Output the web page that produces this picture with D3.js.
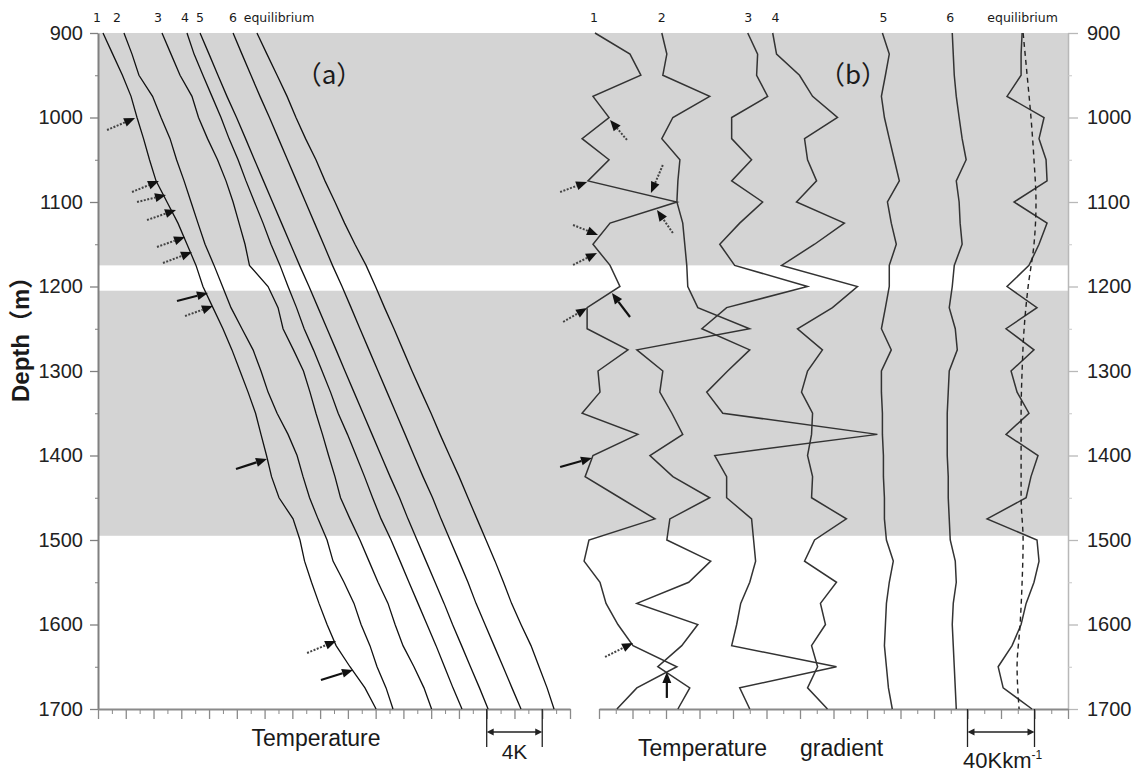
<!DOCTYPE html>
<html>
<head>
<meta charset="utf-8">
<script src="https://cdn.jsdelivr.net/npm/d3@7/dist/d3.min.js"></script>
<style>
  body { margin: 0; background: #fff; }
  text { font-family: "Liberation Sans", Arial, sans-serif; fill: #1a1a1a; }
</style>
</head>
<body>
<div id="chart"></div>
<script>
// depth of every sample (m)
var depths = [900,925,950,975,1000,1025,1050,1075,1100,1125,1150,1175,1200,1225,1250,1275,1300,
	1325,1350,1375,1400,1425,1450,1475,1500,1525,1550,1575,1600,1625,1650,1675,1700];

// (a) temperature, K relative to the left end of the axis
var temp1 = [0.36,1.06,1.76,2.38,2.81,3.28,3.71,4.18,4.97,5.76,6.41,7.06,7.56,8.28,9.00,9.65,10.23,
	10.81,11.35,11.74,12.14,12.50,13.04,14.05,14.55,14.88,15.38,15.92,16.50,17.15,18.15,19.23,20.03];
var temp2 = [1.87,2.45,2.95,3.93,4.54,5.19,5.66,6.20,6.70,7.20,7.71,8.36,8.97,9.58,10.37,11.17,11.74,
	12.25,12.90,13.69,14.34,14.77,15.24,15.85,16.50,16.93,17.72,18.44,18.95,19.59,20.10,20.75,21.25];
var temp3 = [4.61,5.26,5.91,6.77,7.24,7.89,8.61,9.22,9.73,10.16,10.59,10.91,12.25,12.97,13.33,14.08,14.80,
	15.27,15.70,16.17,16.61,17.07,17.47,18.15,18.87,19.52,20.17,20.89,21.40,21.97,22.76,23.48,24.03];
var temp4 = [6.41,6.92,7.56,8.21,8.86,9.44,10.09,10.66,11.27,11.89,12.46,13.11,13.69,14.30,14.85,15.52,16.14,
	16.75,17.30,17.97,18.59,19.20,19.78,20.39,21.11,21.76,22.40,23.05,23.70,24.35,24.96,25.57,26.22];
var temp5 = [7.35,8.00,8.64,9.29,9.98,10.63,11.27,11.92,12.57,13.22,13.87,14.52,15.20,15.85,16.50,17.15,17.79,
	18.44,19.09,19.74,20.39,21.04,21.72,22.33,22.98,23.63,24.28,24.93,25.54,26.19,26.83,27.48,28.10];
var temp6 = [9.73,10.37,11.02,11.67,12.35,13.00,13.65,14.30,14.95,15.60,16.25,16.89,17.58,18.23,18.87,19.52,20.17,
	20.82,21.47,22.12,22.76,23.41,24.10,24.71,25.36,26.01,26.65,27.23,27.88,28.53,29.18,29.82,30.47];
var tempEq = [11.45,12.17,12.90,13.62,14.26,14.95,15.70,16.35,17.07,17.76,18.51,19.31,19.99,20.64,21.32,21.97,22.62,
	23.30,23.99,24.64,25.32,26.01,26.65,27.30,27.95,28.60,29.21,29.79,30.47,31.19,31.77,32.35,32.85];

// (b) temperature gradient, K/km relative to the left end of the axis
var grad1 = [-2.4,18.5,25.0,-3.6,6.0,-10.1,6.0,-6.6,46.5,6.6,-3.6,6.6,12.5,-7.1,-7.1,17.3,-0.6,
	0.6,-10.1,23.2,-3.6,-8.3,12.5,33.4,-6.0,-8.9,0.6,4.2,11.3,20.3,46.5,22.6,10.7];
var grad2 = [37.5,40.5,38.1,66.1,44.1,37.5,48.3,47.1,46.5,50.0,51.2,52.4,53.0,59.0,89.9,22.6,38.1,
	36.3,43.5,50.0,30.4,44.1,66.1,42.3,40.5,66.7,53.6,22.6,59.0,49.4,35.1,54.2,47.1];
var grad3 = [88.8,94.7,94.1,100.7,79.2,79.2,91.1,79.2,97.7,84.0,72.1,81.0,124.5,76.2,61.4,90.0,76.8,
	64.3,73.9,166.2,69.1,76.2,76.2,91.1,92.3,93.5,90.0,84.6,82.2,79.2,141.8,84.0,90.0];
var grad4 = [103.7,106.0,119.7,127.5,142.4,122.7,124.5,129.9,117.9,146.5,128.7,109.0,154.3,139.4,118.5,133.4,124.5,
	120.9,127.5,126.9,124.5,127.5,126.9,147.7,128.7,122.7,141.8,132.2,135.2,126.9,130.5,124.5,136.4];
var grad5 = [169.2,173.3,171.0,168.6,170.4,173.3,176.3,179.3,172.2,174.5,177.5,173.3,173.3,171.0,168.6,174.5,168.6,
	168.6,169.2,169.2,169.8,169.8,170.4,170.4,171.6,175.7,173.3,171.6,171.0,170.4,171.6,172.8,175.1];
var grad6 = [210.9,211.5,212.1,213.3,215.0,216.8,219.2,213.3,215.0,215.6,216.8,212.1,210.9,209.1,212.7,213.9,209.1,
	208.5,207.9,207.9,207.9,208.5,208.5,209.1,209.7,212.7,213.3,211.5,210.9,211.5,212.1,212.7,213.3];
var gradEq = [252.6,252.0,252.0,243.6,265.7,262.7,266.9,267.5,247.8,267.5,262.7,256.7,243.6,261.5,243.0,259.7,246.0,
	249.6,256.7,243.0,262.1,257.9,255.0,231.7,261.5,262.7,259.7,255.0,252.0,246.6,238.3,241.3,258.5];

// smooth equilibrium gradient (dashed)
var fitDepths = [900,950,1000,1050,1100,1150,1200,1250,1300,1350,1400,1450,1500,1550,1600,1650,1700];
var gradEqFit = [253.2,255.6,257.9,259.7,260.9,259.7,256.2,253.8,252.6,252.0,252.0,252.0,253.2,252.6,251.4,249.6,250.8];

var bands = [[900,1175],[1205,1495]];
var depthTicks = [900,1000,1100,1200,1300,1400,1500,1600,1700];
var depthMinor = [950,1050,1150,1250,1350,1450,1550,1650];
var tempTicks = [0,2,4,6,8,10,12,14,16,18,20,22,24,26,28,30,32,34];
var tempMinor = [1,3,5,7,9,11,13,15,17,19,21,23,25,27,29,31,33];
var gradTicks = [0,20,40,60,80,100,120,140,160,180,200,220,240,260,280];
var gradMinor = [10,30,50,70,90,110,130,150,170,190,210,230,250,270];

var curveNames = ["1","2","3","4","5","6","equilibrium"];
var namePosA = [-0.07,1.37,4.32,6.27,7.35,9.73,13.04];
var namePosB = [-3.0,37.5,89.1,105.4,169.8,209.7,252.9];

// arrows: [from value, from depth, to value, to depth, kind]
var arrowsA = [
	[0.65,1014.8,2.67,1000.6,"dot"], [2.45,1088.2,4.39,1075.1,"dot"], [2.81,1100.0,4.90,1091.7,"dot"],
	[3.53,1121.3,5.62,1109.5,"dot"], [4.25,1153.2,6.27,1141.4,"dot"], [4.68,1172.2,6.77,1159.2,"dot"],
	[5.69,1217.2,7.92,1207.7,"solid"], [6.27,1234.9,8.28,1223.1,"dot"], [9.94,1416.0,12.17,1404.1,"solid"],
	[15.06,1633.7,17.15,1619.5,"dot"], [16.06,1665.6,18.37,1653.8,"solid"]
];
var arrowsB = [
	[16.7,1026.6,6.6,1003.0,"dot"], [-23.2,1088.2,-7.1,1076.3,"dot"], [38.1,1056.2,31.0,1089.3,"dot"],
	[44.1,1136.7,34.6,1109.5,"dot"], [-15.5,1127.2,-0.6,1139.0,"dot"], [-15.5,1174.5,-1.2,1160.3,"dot"],
	[18.5,1236.1,7.7,1207.7,"solid"], [-21.4,1242.0,-7.1,1225.4,"dot"], [-23.2,1413.6,-4.2,1402.9,"solid"],
	[3.6,1638.4,20.3,1621.8,"dot"], [40.5,1686.9,40.5,1656.2,"solid"]
];

var width = 1135, height = 774;
var svg = d3.select("#chart").append("svg")
	.attr("width", width)
	.attr("height", height);

var y = d3.scaleLinear().domain([900, 1700]).range([33, 709]);
var xA = d3.scaleLinear().domain([0, 34]).range([98, 570]);
var xB = d3.scaleLinear().domain([0, 280]).range([599, 1068]);

svg.selectAll("rect.band").data(bands).enter().append("rect")
	.attr("class", "band")
	.attr("x", xA(0))
	.attr("width", xB(280) - xA(0))
	.attr("y", function(d) { return y(d[0]); })
	.attr("height", function(d) { return y(d[1]) - y(d[0]); })
	.style("fill", "#d4d4d4");

function styleAxis(g, col, w) {
	g.attr("font-family", null).attr("font-size", null);
	g.select(".domain").style("stroke", col).style("stroke-width", w);
	g.selectAll(".tick line").style("stroke", col).style("stroke-width", 1.3);
	g.selectAll(".tick text").style("font-size", "20px").style("fill", "#222");
}

// left depth axis
svg.append("g").attr("transform", "translate(" + xA(0) + ",0)")
	.call(d3.axisLeft(y).tickValues(depthTicks).tickSize(8).tickSizeOuter(0).tickPadding(7).tickFormat(d3.format("d")))
	.call(styleAxis, "#808080", 2);
svg.append("g").attr("transform", "translate(" + xA(0) + ",0)")
	.call(d3.axisLeft(y).tickValues(depthMinor).tickSize(3).tickFormat(""))
	.call(function(g) { g.select(".domain").remove(); g.selectAll("line").style("stroke", "#808080"); });

// right depth axis
svg.append("g").attr("transform", "translate(" + xB(280) + ",0)")
	.call(d3.axisRight(y).tickValues(depthTicks).tickSize(10).tickSizeOuter(0).tickPadding(9).tickFormat(d3.format("d")))
	.call(styleAxis, "#b8b8b8", 1.5);
svg.append("g").attr("transform", "translate(" + xB(280) + ",0)")
	.call(d3.axisRight(y).tickValues(depthMinor).tickSize(4).tickFormat(""))
	.call(function(g) { g.select(".domain").remove(); g.selectAll("line").style("stroke", "#c8c8c8"); });

// bottom axes, no labels
[[xA, tempTicks, tempMinor], [xB, gradTicks, gradMinor]].forEach(function(a) {
	svg.append("g").attr("transform", "translate(0," + y(1700) + ")")
		.call(d3.axisBottom(a[0]).tickValues(a[1]).tickSize(10).tickSizeOuter(0).tickFormat(""))
		.call(styleAxis, "#8a8a8a", 2);
	svg.append("g").attr("transform", "translate(0," + y(1700) + ")")
		.call(d3.axisBottom(a[0]).tickValues(a[2]).tickSize(5).tickFormat(""))
		.call(function(g) { g.select(".domain").remove(); g.selectAll("line").style("stroke", "#8a8a8a"); });
});

// curves
var tempSeries = [temp1, temp2, temp3, temp4, temp5, temp6, tempEq];
var gradSeries = [grad1, grad2, grad3, grad4, grad5, grad6, gradEq];

var lineA = d3.line().x(function(d) { return xA(d[0]); }).y(function(d) { return y(d[1]); });
var lineB = d3.line().x(function(d) { return xB(d[0]); }).y(function(d) { return y(d[1]); });

svg.selectAll("path.tcurve").data(tempSeries).enter().append("path")
	.attr("class", "tcurve")
	.attr("d", function(s) { return lineA(d3.zip(s, depths)); })
	.style("fill", "none").style("stroke", "#111").style("stroke-width", 1.3);

svg.selectAll("path.gcurve").data(gradSeries).enter().append("path")
	.attr("class", "gcurve")
	.attr("d", function(s) { return lineB(d3.zip(s, depths)); })
	.style("fill", "none").style("stroke", "#333").style("stroke-width", 1.5)
	.style("stroke-linejoin", "miter");

svg.append("path")
	.attr("d", d3.line().curve(d3.curveMonotoneY)
		.x(function(d) { return xB(d[0]); }).y(function(d) { return y(d[1]); })(d3.zip(gradEqFit, fitDepths)))
	.style("fill", "none").style("stroke", "#222").style("stroke-width", 1.4)
	.style("stroke-dasharray", "5,4");

// curve names along the top
function names(pos, sc) {
	svg.selectAll(null).data(curveNames).enter().append("text")
		.attr("x", function(d, i) { return sc(pos[i]); })
		.attr("y", 22)
		.attr("text-anchor", "middle")
		.style("font-family", "'DejaVu Sans', sans-serif")
		.style("font-size", "12.5px")
		.text(function(d) { return d; });
}
names(namePosA, xA);
names(namePosB, xB);

// panel letters
svg.append("text").attr("x", 329).attr("y", 84).attr("text-anchor", "middle")
	.style("font-family", "'Noto Sans CJK SC', sans-serif").style("font-size", "26px").text("（a）");
svg.append("text").attr("x", 853).attr("y", 84).attr("text-anchor", "middle")
	.style("font-family", "'Noto Sans CJK SC', sans-serif").style("font-size", "26px").text("（b）");

// arrows
function arrow(d, sc) {
	var x0 = sc(d[0]), y0 = y(d[1]), x1 = sc(d[2]), y1 = y(d[3]);
	var len = Math.sqrt((x1 - x0) * (x1 - x0) + (y1 - y0) * (y1 - y0));
	var ux = (x1 - x0) / len, uy = (y1 - y0) / len;
	var bx = x1 - 11 * ux, by = y1 - 11 * uy;
	var sh = svg.append("line")
		.attr("x1", x0).attr("y1", y0).attr("x2", bx).attr("y2", by)
		.style("stroke", d[4] == "dot" ? "#444" : "#111")
		.style("stroke-width", d[4] == "dot" ? 2 : 2.2);
	if (d[4] == "dot") sh.style("stroke-dasharray", "2,1.5");
	svg.append("path")
		.attr("d", "M" + x1 + "," + y1 + "L" + (bx - 4.5 * uy) + "," + (by + 4.5 * ux) +
			"L" + (bx + 4.5 * uy) + "," + (by - 4.5 * ux) + "Z")
		.style("fill", "#111");
}
arrowsA.forEach(function(d) { arrow(d, xA); });
arrowsB.forEach(function(d) { arrow(d, xB); });

// scale bars
function scaleBar(x0, x1) {
	var g = svg.append("g").style("stroke", "#222").style("stroke-width", 1.3);
	g.append("line").attr("x1", x0).attr("x2", x0).attr("y1", 709).attr("y2", 747);
	g.append("line").attr("x1", x1).attr("x2", x1).attr("y1", 709).attr("y2", 747);
	g.append("line").attr("x1", x0 + 6).attr("x2", x1 - 6).attr("y1", 732).attr("y2", 732);
	g.append("path").attr("d", "M" + x0 + ",732l7,-3.5v7z").style("fill", "#222").style("stroke", "none");
	g.append("path").attr("d", "M" + x1 + ",732l-7,-3.5v7z").style("fill", "#222").style("stroke", "none");
}
scaleBar(xA(28), xA(32));
scaleBar(xB(220), xB(260));

svg.append("text").attr("x", (xA(28) + xA(32)) / 2).attr("y", 759).attr("text-anchor", "middle")
	.style("font-size", "21px").text("4K");
var lab = svg.append("text").attr("x", 963).attr("y", 768).style("font-size", "22px");
lab.append("tspan").text("40Kkm");
lab.append("tspan").attr("dy", -9).style("font-size", "12px").text("-1");

// axis titles
svg.append("text").attr("x", 316).attr("y", 746).attr("text-anchor", "middle")
	.style("font-size", "23px").text("Temperature");
svg.append("text").attr("x", 638).attr("y", 756).style("font-size", "23px").text("Temperature");
svg.append("text").attr("x", 800).attr("y", 756).style("font-size", "23px").text("gradient");

svg.append("text")
	.attr("transform", "translate(29,402) rotate(-90)")
	.style("font-family", "'Liberation Sans', 'Noto Sans CJK SC', sans-serif")
	.style("font-size", "24px").style("font-weight", "bold")
	.text("Depth（m）");
</script>
</body>
</html>
